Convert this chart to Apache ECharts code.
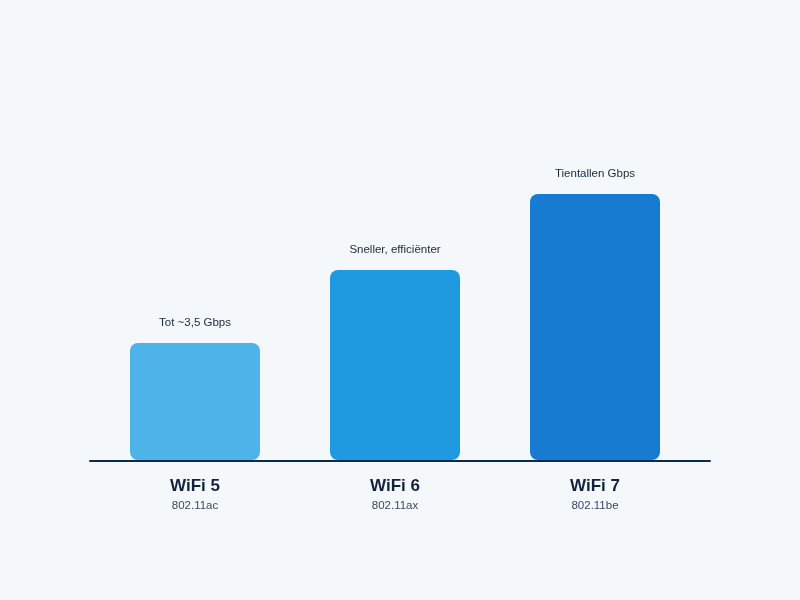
<!DOCTYPE html>
<html>
<head>
<meta charset="utf-8">
<style>
  html, body { margin: 0; padding: 0; background: #f4f8fb; }
  #chart { width: 800px; height: 600px; }
</style>
<script src="https://cdn.jsdelivr.net/npm/echarts@6/dist/echarts.min.js"></script>
</head>
<body>
<div id="chart"></div>
<script>
const categories = ["WiFi 5", "WiFi 6", "WiFi 7"];
const standards = ["802.11ac", "802.11ax", "802.11be"];
const values = [29.25, 47.5, 66.5];
const notes = ["Tot ~3,5 Gbps", "Sneller, efficiënter", "Tientallen Gbps"];
const barColors = ["#4db3e9", "#1f9ae0", "#177bd1"];

const chart = echarts.init(document.getElementById("chart"));

chart.setOption({
  backgroundColor: "#f4f8fb",
  textStyle: { fontFamily: "Liberation Sans, Arial, sans-serif" },
  grid: [
    { left: 95, right: 105, top: 60, bottom: 140 },
    { left: 90, right: 90, top: 60, bottom: 139 },
  ],
  xAxis: [
    {
      type: "category",
      gridIndex: 0,
      data: categories,
      axisLine: { show: false },
      axisTick: { show: false },
      axisLabel: {
        margin: 16,
        formatter: (v, i) => `{t|${v}}\n{s|${standards[i]}}`,
        rich: {
          t: { fontSize: 17, fontWeight: "bold", color: "#14233a", lineHeight: 21 },
          s: { fontSize: 11.5, color: "#3a4a62", lineHeight: 18 },
        },
      },
    },
    {
      type: "value",
      gridIndex: 1,
      min: 0,
      max: 1,
      axisLine: { show: true, lineStyle: { color: "#0f2a4a", width: 2 } },
      axisTick: { show: false },
      axisLabel: { show: false },
      splitLine: { show: false },
    },
  ],
  yAxis: [
    { type: "value", gridIndex: 0, min: 0, max: 100, show: false },
    { type: "value", gridIndex: 1, min: 0, max: 1, show: false },
  ],
  series: [
    {
      type: "bar",
      xAxisIndex: 0,
      yAxisIndex: 0,
      barWidth: 130,
      data: values.map((v, i) => ({
        value: v,
        itemStyle: { color: barColors[i], borderRadius: 8 },
        label: { formatter: notes[i] },
      })),
      label: {
        show: true,
        position: "top",
        distance: 14,
        fontSize: 11.5,
        color: "#1a2a3c",
      },
      silent: true,
    },
  ],
});
</script>
</body>
</html>
